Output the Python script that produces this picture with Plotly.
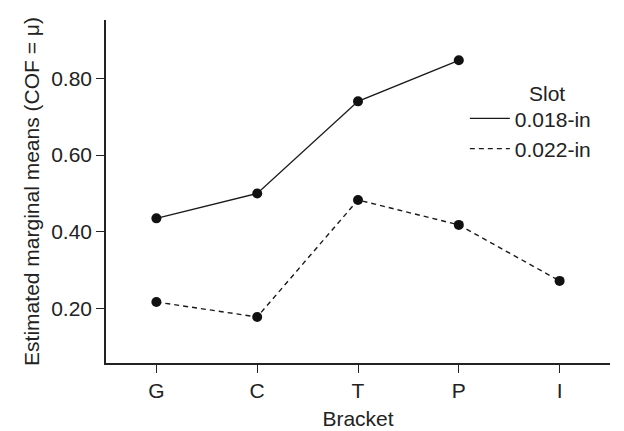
import plotly.graph_objects as go

brackets = ["G", "C", "T", "P", "I"]
slot_018 = [0.435, 0.500, 0.740, 0.847, None]
slot_022 = [0.217, 0.178, 0.483, 0.418, 0.272]
series_names = ["0.018-in", "0.022-in"]
y_ticks = [0.20, 0.40, 0.60, 0.80]

FONT = "Liberation Sans"
FS = 21
fig = go.Figure()

for name, vals, dash in [(series_names[0], slot_018, "solid"), (series_names[1], slot_022, "5px,4px")]:
    fig.add_trace(go.Scatter(x=brackets, y=vals, mode="lines", name=name,
                             line=dict(color="#1a1a1a", width=1.4, dash=dash),
                             connectgaps=False, showlegend=True))
    fig.add_trace(go.Scatter(x=brackets, y=vals, mode="markers", name=name,
                             marker=dict(color="#111111", size=10),
                             showlegend=False))

fig.update_layout(
    width=624, height=431,
    margin=dict(l=98, r=22, t=12, b=68),
    paper_bgcolor="white", plot_bgcolor="white",
    font=dict(family=FONT, size=FS, color="#222222"),
    showlegend=True,
    legend=dict(x=0.712, y=0.772, xanchor="left", yanchor="top",
                bgcolor="rgba(0,0,0,0)", font=dict(family=FONT, size=FS),
                tracegroupgap=0, itemwidth=40),
    annotations=[dict(text="Slot", xref="paper", yref="paper", x=0.835, y=0.745,
                      xanchor="left", yanchor="bottom", showarrow=False,
                      font=dict(family=FONT, size=FS))],
)
fig.update_xaxes(type="category", range=[-0.5, 4.5], showline=True, linecolor="#222222",
                 linewidth=1.5, ticks="outside", ticklen=8, tickwidth=1.2,
                 tickcolor="#222222", showgrid=False, zeroline=False,
                 tickfont=dict(family=FONT, size=FS),
                 title=dict(text="Bracket", standoff=10, font=dict(family=FONT, size=FS)))
fig.update_yaxes(range=[0.058, 0.952], tickvals=y_ticks, ticktext=[f"{v:.2f}" for v in y_ticks],
                 showline=True, linecolor="#222222", linewidth=1.5, ticks="outside",
                 ticklen=8, tickwidth=1.2, tickcolor="#222222", showgrid=False,
                 zeroline=False, tickfont=dict(family=FONT, size=FS),
                 title=dict(text="Estimated marginal means (COF = \u03bc)", standoff=6,
                            font=dict(family=FONT, size=FS)))

fig.write_html("out.html")
